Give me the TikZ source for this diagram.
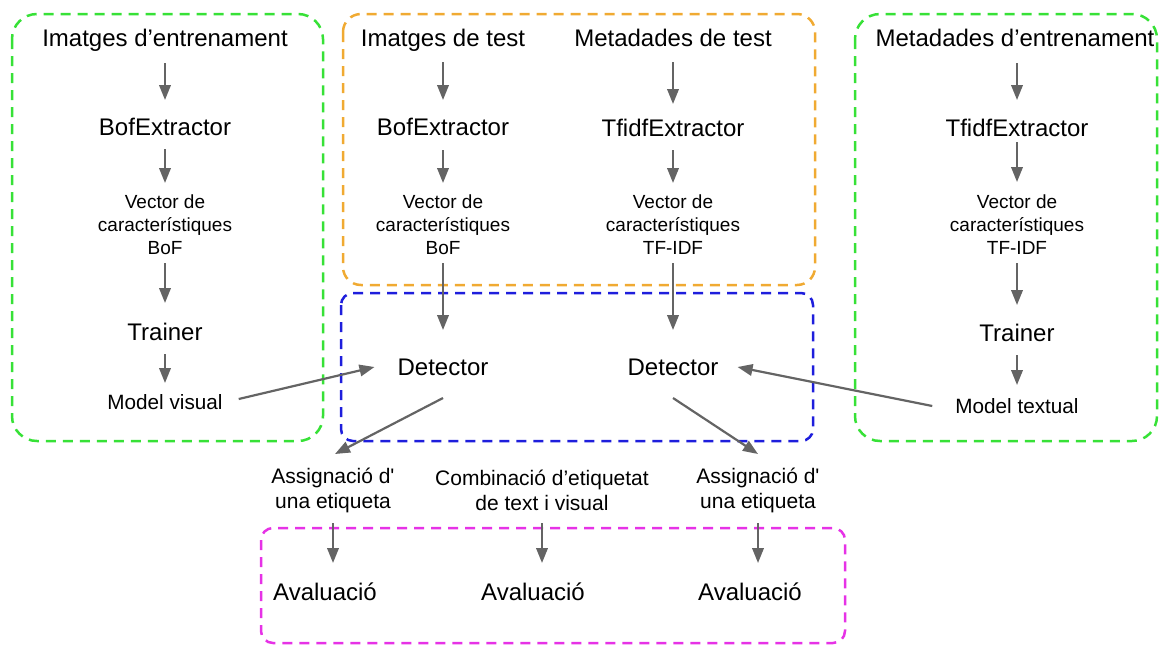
\documentclass[tikz,border=0pt]{standalone}
\usepackage{fontspec}
\setmainfont{Liberation Sans}
\usetikzlibrary{arrows.meta,calc}

\definecolor{grpgreen}{RGB}{55,225,55}
\definecolor{grporange}{RGB}{240,170,50}
\definecolor{grpblue}{RGB}{30,30,220}
\definecolor{grpmagenta}{RGB}{230,50,230}
\definecolor{arrowgray}{RGB}{100,100,100}

\begin{document}
\begin{tikzpicture}[x=1pt,y=-1pt,
  group/.style={line width=2.5pt, dash pattern=on 10pt off 7pt},
  big/.style={inner sep=0pt, font=\fontsize{24}{28}\selectfont, text height=17pt, text depth=0pt},
  small/.style={inner sep=0pt, font=\fontsize{19}{23}\selectfont, align=center},
  model/.style={inner sep=0pt, font=\fontsize{20.7}{24}\selectfont, text height=14.8pt, text depth=0pt},
  lbl/.style={inner sep=0pt, font=\fontsize{21}{25}\selectfont, align=center},
  arr/.style={draw=arrowgray, line width=2.2pt, -{Triangle[length=15pt,width=11.5pt]}},
]
\useasboundingbox (0,0) rectangle (1159,646);

% group frames
\draw[group, grpgreen, rounded corners=25pt] (12,14) rectangle (323,441);
\draw[group, grporange, rounded corners=18pt] (343,14) rectangle (815,285);
\draw[group, grpblue, rounded corners=12pt] (341,293) rectangle (813,441);
\draw[group, grpgreen, rounded corners=25pt] (855,14) rectangle (1157,441);
\draw[group, grpmagenta, rounded corners=12pt] (261,528) rectangle (845,643);

% visual training pipeline
\node[big] (ltA) at (165,38) {Imatges d’entrenament};
\node[big] (ltB) at (165,127) {BofExtractor};
\node[small] (ltV) at (165,225) {Vector de\\característiques\\BoF};
\node[big] (ltT) at (165,332) {Trainer};
\node[model] (ltM) at (165,402) {Model visual};

% test pipelines
\node[big] (mlA) at (443,38) {Imatges de test};
\node[big] (mlB) at (443,127) {BofExtractor};
\node[small] (mlV) at (443,225) {Vector de\\característiques\\BoF};
\node[big] (mlD) at (443,367) {Detector};

\node[big] (mrA) at (673,38) {Metadades de test};
\node[big] (mrB) at (673,128) {TfidfExtractor};
\node[small] (mrV) at (673,225) {Vector de\\característiques\\TF-IDF};
\node[big] (mrD) at (673,367) {Detector};

% textual training pipeline
\node[big] (rtA) at (1015,38) {Metadades d’entrenament};
\node[big] (rtB) at (1017,128) {TfidfExtractor};
\node[small] (rtV) at (1017,225) {Vector de\\característiques\\TF-IDF};
\node[big] (rtT) at (1017,333) {Trainer};
\node[model] (rtM) at (1017,406) {Model textual};

% labelling and evaluation
\node[lbl] (asL) at (333,490) {Assignació d\textquotesingle\\una etiqueta};
\node[lbl] (cmb) at (542,490) {Combinació d’etiquetat\\de text i visual};
\node[lbl] (asR) at (758,490) {Assignació d\textquotesingle\\una etiqueta};
\node[big] (avL) at (325,592) {Avaluació};
\node[big] (avM) at (533,592) {Avaluació};
\node[big] (avR) at (750,592) {Avaluació};

% vertical flow
\draw[arr, shorten <=25pt, shorten >=27pt] (ltA.center) -- (ltB.center);
\draw[arr, shorten <=22pt, shorten >=42pt] (ltB.center) -- (ltV.center);
\draw[arr, shorten <=38pt, shorten >=29pt] (ltV.center) -- (ltT.center);
\draw[arr, shorten <=22pt, shorten >=19pt] (ltT.center) -- (ltM.center);

\draw[arr, shorten <=24pt, shorten >=27pt] (mlA.center) -- (mlB.center);
\draw[arr, shorten <=23pt, shorten >=42pt] (mlB.center) -- (mlV.center);
\draw[arr, shorten <=38pt, shorten >=37pt] (mlV.center) -- (mlD.center);

\draw[arr, shorten <=24pt, shorten >=24pt] (mrA.center) -- (mrB.center);
\draw[arr, shorten <=22pt, shorten >=42pt] (mrB.center) -- (mrV.center);
\draw[arr, shorten <=38pt, shorten >=37pt] (mrV.center) -- (mrD.center);

\draw[arr, shorten <=25pt, shorten >=28pt] (rtA.center -| rtB.center) -- (rtB.center);
\draw[arr, shorten <=14pt, shorten >=43pt] (rtB.center) -- (rtV.center);
\draw[arr, shorten <=38pt, shorten >=28pt] (rtV.center) -- (rtT.center);
\draw[arr, shorten <=22pt, shorten >=21pt] (rtT.center) -- (rtM.center);

% models feed the detectors
\draw[arr] ([xshift=16pt,yshift=3pt]ltM.east) -- ([xshift=-23pt]mlD.west);
\draw[arr] ([xshift=-23pt]rtM.west) -- ([xshift=19pt]mrD.east);

% detectors to label assignment
\draw[arr] ([yshift=-31pt]mlD.center) -- ([xshift=2pt,yshift=36pt]asL.center);
\draw[arr] ([yshift=-31pt]mrD.center) -- ([yshift=36pt]asR.center);

% label assignment to evaluation
\draw[arr] ([yshift=-33pt]asL.center) -- ($(asL.center |- avL.center)+(0,-29)$);
\draw[arr] ([yshift=-33pt]cmb.center) -- ($(cmb.center |- avM.center)+(0,-29)$);
\draw[arr] ([yshift=-33pt]asR.center) -- ($(asR.center |- avR.center)+(0,-29)$);
\end{tikzpicture}
\end{document}
